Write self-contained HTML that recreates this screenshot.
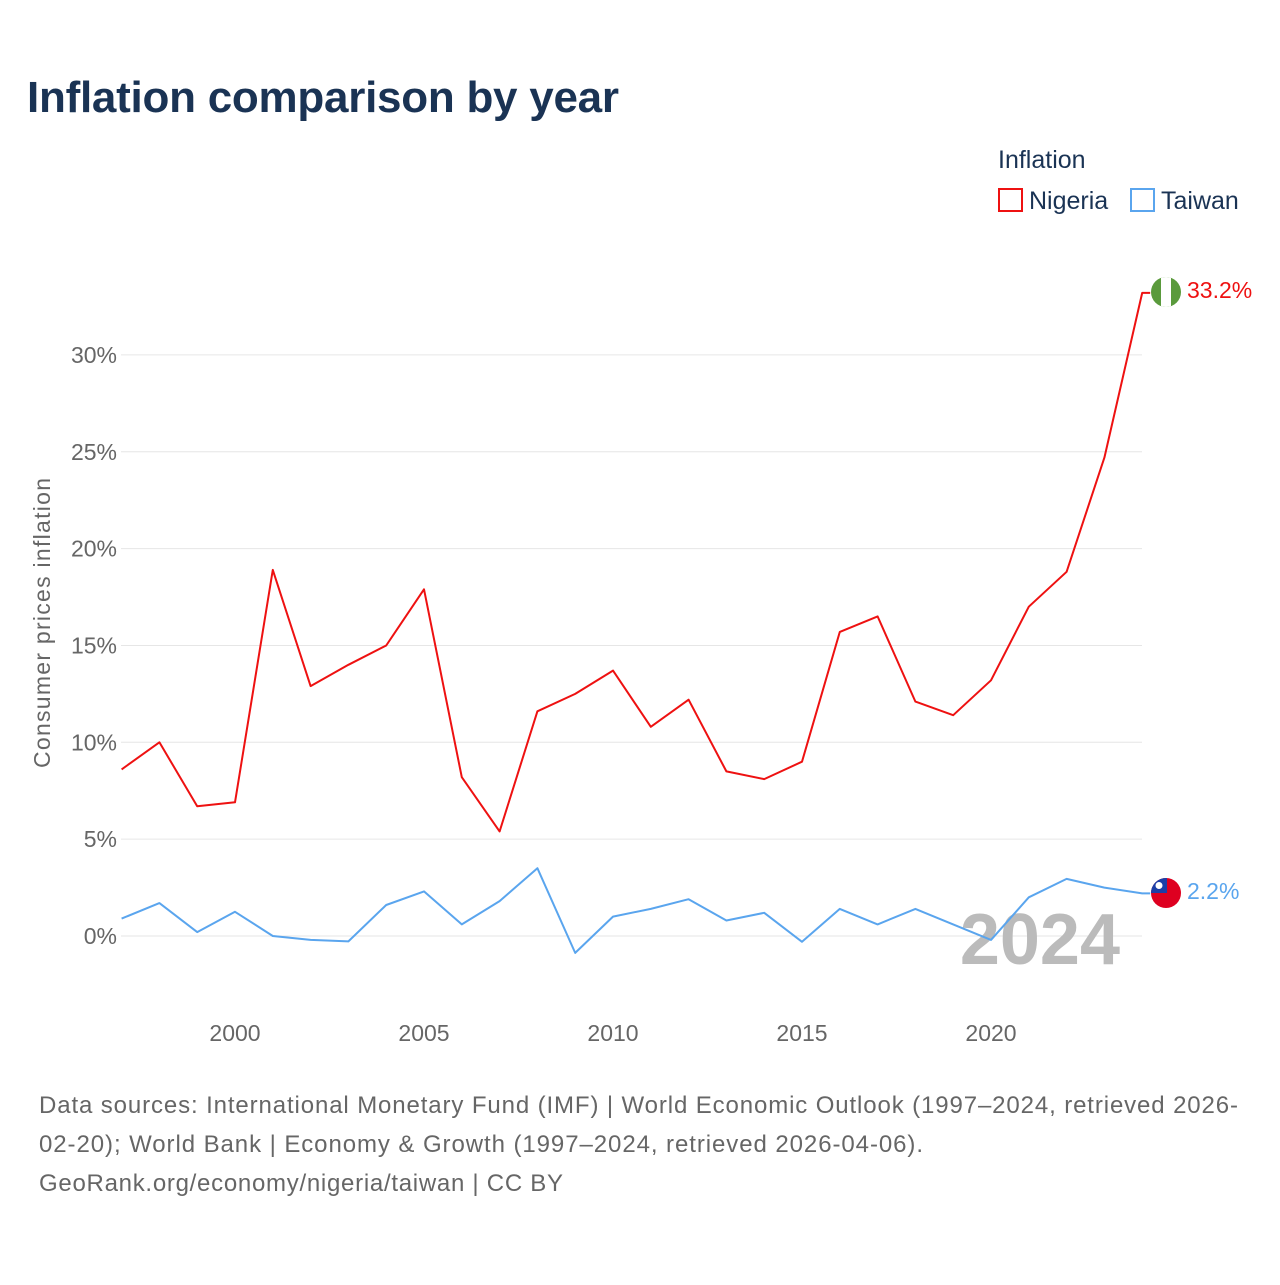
<!DOCTYPE html>
<html><head><meta charset="utf-8"><style>
body{margin:0;background:#fff;width:1280px;height:1280px;overflow:hidden;font-family:"Liberation Sans",sans-serif}
</style></head><body>
<svg width="1280" height="1280" xmlns="http://www.w3.org/2000/svg">
<text x="27" y="112" font-size="44" font-weight="bold" fill="#1a3354" textLength="592">Inflation comparison by year</text>
<g>
<text x="998" y="168" font-size="25" fill="#1a3354">Inflation</text>
<rect x="999" y="189" width="23" height="22" fill="none" stroke="#ee1111" stroke-width="2"/>
<text x="1029" y="209" font-size="25" fill="#1a3354">Nigeria</text>
<rect x="1131" y="189" width="23" height="22" fill="none" stroke="#5aa5ee" stroke-width="2"/>
<text x="1161" y="209" font-size="25" fill="#1a3354">Taiwan</text>
</g>
<g id="grid"></g>
<g id="yt"></g>
<g id="xt"></g>
<text transform="translate(50,623) rotate(-90)" text-anchor="middle" font-size="23" fill="#666" textLength="290">Consumer prices inflation</text>
<text x="1120" y="964" text-anchor="end" font-size="72" font-weight="bold" fill="#bbb">2024</text>
<g id="series"></g>
<g>
<clipPath id="c1"><circle cx="1166" cy="292" r="15"/></clipPath>
<g clip-path="url(#c1)"><rect x="1151" y="277" width="30" height="30" fill="#5a9a3c"/><rect x="1161" y="277" width="10" height="30" fill="#fff"/></g>
</g>
<g>
<clipPath id="c2"><circle cx="1166" cy="893" r="15"/></clipPath>
<g clip-path="url(#c2)"><rect x="1151" y="878" width="30" height="30" fill="#de0020"/><rect x="1151" y="878" width="16" height="15" fill="#1b3fa8"/><circle cx="1159" cy="885.5" r="3.5" fill="#fff"/></g>
</g>
<text x="1187" y="298" font-size="23" fill="#ee1111">33.2%</text>
<text x="1187" y="899" font-size="23" fill="#5aa5ee">2.2%</text>
<g font-size="24" fill="#666">
<text x="39" y="1113" textLength="1199">Data sources: International Monetary Fund (IMF) | World Economic Outlook (1997–2024, retrieved 2026-</text>
<text x="39" y="1152" textLength="884">02-20); World Bank | Economy &amp; Growth (1997–2024, retrieved 2026-04-06).</text>
<text x="39" y="1191" textLength="524">GeoRank.org/economy/nigeria/taiwan | CC BY</text>
</g>
</svg>
<script>
const years=[1997,1998,1999,2000,2001,2002,2003,2004,2005,2006,2007,2008,2009,2010,2011,2012,2013,2014,2015,2016,2017,2018,2019,2020,2021,2022,2023,2024];
const nigeria=[8.6,10.0,6.7,6.9,18.9,12.9,14.0,15.0,17.9,8.2,5.4,11.6,12.5,13.7,10.8,12.2,8.5,8.1,9.0,15.7,16.5,12.1,11.4,13.2,17.0,18.8,24.7,33.2];
const taiwan=[0.9,1.7,0.2,1.25,0.0,-0.2,-0.28,1.6,2.3,0.6,1.8,3.5,-0.87,1.0,1.4,1.9,0.8,1.2,-0.3,1.4,0.6,1.4,0.6,-0.2,2.0,2.95,2.5,2.2];
const yTicks=[0,5,10,15,20,25,30];
const xTicks=[2000,2005,2010,2015,2020];
const NS="http://www.w3.org/2000/svg";
const X=y=>121.6+(y-1997)*37.8, Y=v=>936-v*19.37;
function mk(t,a,p){const e=document.createElementNS(NS,t);for(const k in a)e.setAttribute(k,a[k]);p.appendChild(e);return e;}
const grid=document.getElementById('grid'),yt=document.getElementById('yt'),xt=document.getElementById('xt'),se=document.getElementById('series');
yTicks.forEach(v=>{
const l=mk('line',{x1:121,x2:1142,y1:Y(v),y2:Y(v),stroke:'#e6e6e6','stroke-width':1},grid);


const t=mk('text',{x:117,y:Y(v)+8,'text-anchor':'end','font-size':23,fill:'#666'},yt);
t.textContent=v+'%';


});
xTicks.forEach(v=>{
const t=mk('text',{x:X(v),y:1041,'text-anchor':'middle','font-size':23,fill:'#666'},xt);
t.textContent=v;


});
function line(d,c,n){
let p=d.map((v,i)=>(i?'L':'M')+X(years[i]).toFixed(1)+','+Y(v).toFixed(1)).join('');
p+='L'+(X(years[years.length-1])+8)+','+Y(d[d.length-1]).toFixed(1);
const e=mk('path',{d:p,fill:'none',stroke:c,'stroke-width':2,'stroke-linejoin':'round'},se);


}
line(taiwan,'#5aa5ee','line-taiwan');
line(nigeria,'#ee1111','line-nigeria');
</script>
</body></html>
